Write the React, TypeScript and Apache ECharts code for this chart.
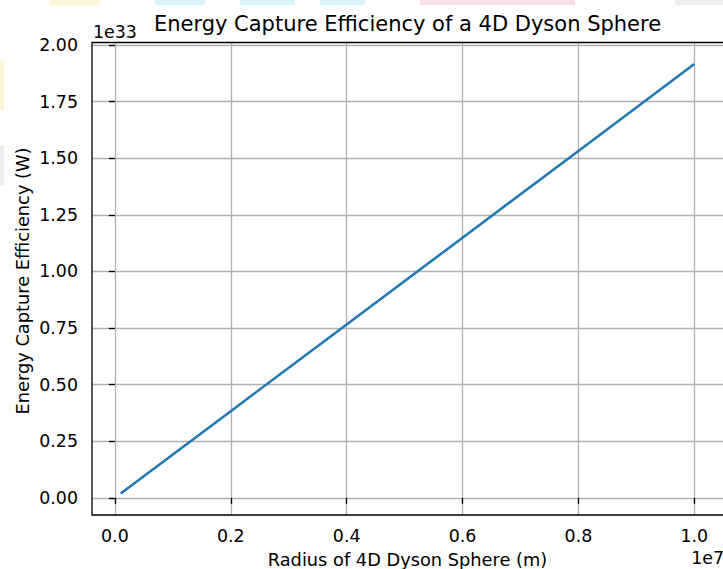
import React, { useEffect, useRef } from "react";
import * as echarts from "echarts";

const radiusM = [1e5, 2e6, 4e6, 6e6, 8e6, 1e7];
const energyW = [1.92e31, 3.83e32, 7.66e32, 1.149e33, 1.532e33, 1.916e33];
const xTicks = [0, 0.2, 0.4, 0.6, 0.8, 1.0];
const yTicks = [0, 0.25, 0.5, 0.75, 1.0, 1.25, 1.5, 1.75, 2.0];

const FONT = "DejaVu Sans";
const FS = 17.4;
const LFS = 17.8;

export default function App() {
  const ref = useRef<HTMLDivElement>(null);
  useEffect(() => {
    if (!ref.current) return;
    const chart = echarts.init(ref.current, null, { renderer: "svg" });
    const data = radiusM.map((r, i) => [r / 1e7, energyW[i] / 1e33]);
    const left = 92, top = 42.5, width = 633, height = 472.5;
    chart.setOption({
      animation: false,
      backgroundColor: "#ffffff",
      grid: { left, top, width, height, containLabel: false },
      xAxis: {
        type: "value",
        min: -0.0395,
        max: 1.0495,
        axisLine: { show: false },
        axisTick: { show: true, customValues: xTicks, length: 6, lineStyle: { color: "#000", width: 1.3 } },
        axisLabel: {
          customValues: xTicks,
          formatter: (v: number) => v.toFixed(1),
          fontFamily: FONT, fontSize: FS, color: "#000", margin: 12,
        },
        splitLine: { show: true, lineStyle: { color: "#b0b0b0", width: 1.3 } },
      },
      yAxis: {
        type: "value",
        min: -0.0756,
        max: 2.011,
        axisLine: { show: false },
        axisTick: { show: true, customValues: yTicks, length: 6, lineStyle: { color: "#000", width: 1.3 } },
        axisLabel: {
          customValues: yTicks,
          formatter: (v: number) => v.toFixed(2),
          fontFamily: FONT, fontSize: FS, color: "#000", margin: 14,
        },
        splitLine: { show: true, lineStyle: { color: "#b0b0b0", width: 1.3 } },
      },
      series: [
        {
          type: "line",
          data,
          showSymbol: false,
          symbol: "none",
          lineStyle: { color: "#1f77b4", width: 2.5 },
          z: 3,
        },
      ],
      graphic: [
        { type: "rect", left: 50, top: 0, shape: { width: 50, height: 5 }, style: { fill: "#fdf6d6" }, silent: true },
        { type: "rect", left: 155, top: 0, shape: { width: 50, height: 5 }, style: { fill: "#d9f5f9" }, silent: true },
        { type: "rect", left: 240, top: 0, shape: { width: 55, height: 5 }, style: { fill: "#d9f5f9" }, silent: true },
        { type: "rect", left: 320, top: 0, shape: { width: 45, height: 5 }, style: { fill: "#d9f5f9" }, silent: true },
        { type: "rect", left: 420, top: 0, shape: { width: 155, height: 5 }, style: { fill: "#fbdcea" }, silent: true },
        { type: "rect", left: 675, top: 0, shape: { width: 48, height: 5 }, style: { fill: "#eeeeee" }, silent: true },
        { type: "rect", left: 0, top: 60, shape: { width: 4, height: 50 }, style: { fill: "#fdf6d6" }, silent: true },
        { type: "rect", left: 0, top: 145, shape: { width: 4, height: 40 }, style: { fill: "#eeeeee" }, silent: true },
        {
          type: "rect",
          shape: { x: left, y: top, width: width, height: height },
          style: { fill: "none", stroke: "#000", lineWidth: 1.3 },
          z: 10,
          silent: true,
        },
        {
          type: "text",
          x: 407.5, y: 24,
          style: { text: "Energy Capture Efficiency of a 4D Dyson Sphere", font: `21px ${FONT}`, fill: "#000", align: "center", verticalAlign: "middle" },
        },
        {
          type: "text",
          x: 93, y: 32,
          style: { text: "1e33", font: `${FS}px ${FONT}`, fill: "#000", align: "left", verticalAlign: "middle" },
        },
        {
          type: "text",
          x: 724, y: 558,
          style: { text: "1e7", font: `${FS}px ${FONT}`, fill: "#000", align: "right", verticalAlign: "middle" },
        },
        {
          type: "text",
          x: 407.5, y: 559,
          style: { text: "Radius of 4D Dyson Sphere (m)", font: `${LFS}px ${FONT}`, fill: "#000", align: "center", verticalAlign: "middle" },
        },
        {
          type: "text",
          x: 22, y: 281,
          rotation: Math.PI / 2,
          style: { text: "Energy Capture Efficiency (W)", font: `${LFS}px ${FONT}`, fill: "#000", align: "center", verticalAlign: "middle" },
        },
      ],
    });
    return () => chart.dispose();
  }, []);
  return <div ref={ref} style={{ width: 723, height: 569, position: "absolute", left: 0, top: 0 }} />;
}
